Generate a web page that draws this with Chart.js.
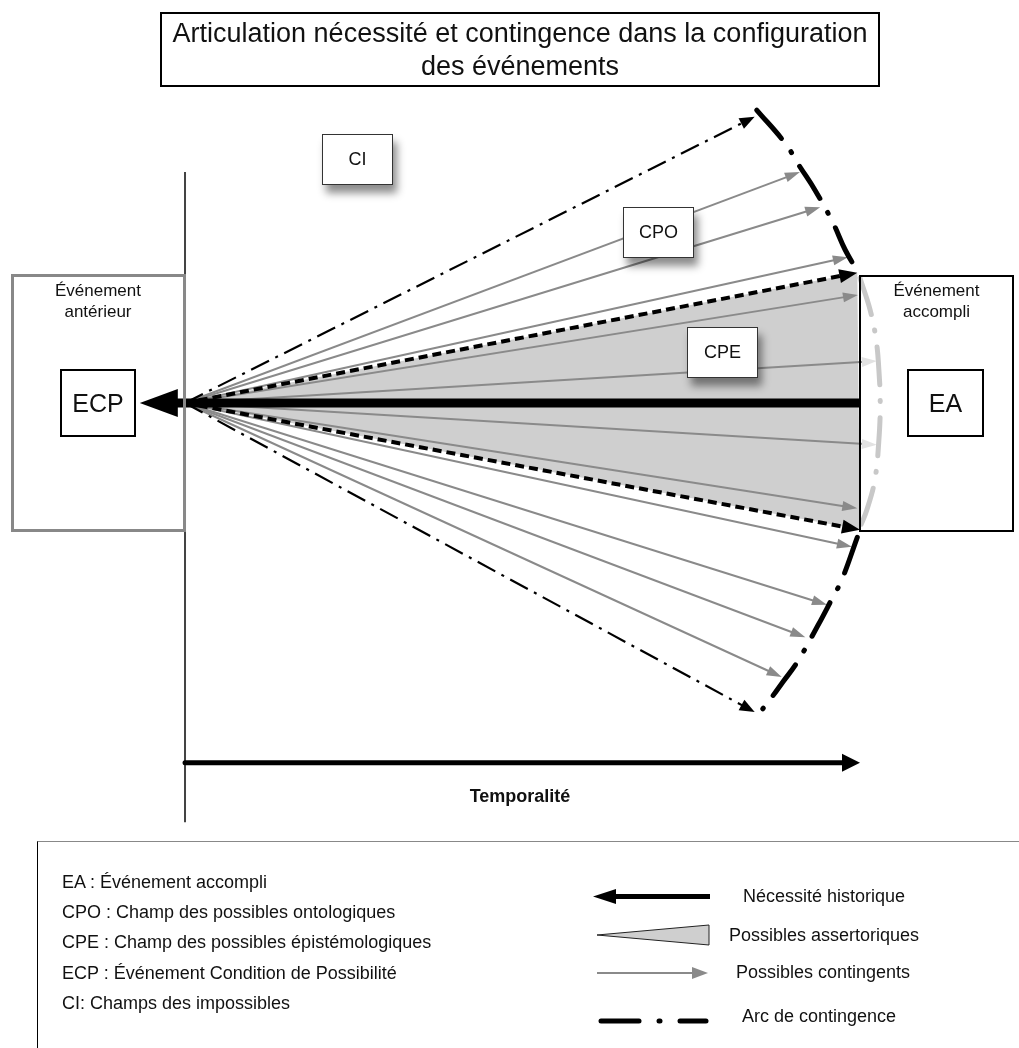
<!DOCTYPE html>
<html>
<head>
<meta charset="utf-8">
<title>Articulation nécessité et contingence</title>
<script src="https://cdn.jsdelivr.net/npm/chart.js"></script>
<style>
  html, body { margin: 0; padding: 0; background: #fff; }
  body { width: 1019px; height: 1048px; overflow: hidden; position: relative;
         font-family: 'Liberation Sans', Arial, Helvetica, sans-serif; color: #111; }
  #wrap { position: absolute; left: 0; top: 0; width: 1019px; height: 1048px; }
  .box { position: absolute; box-sizing: border-box; }
  .lbl { position: absolute; white-space: nowrap; }
  .center { display: flex; align-items: center; justify-content: center; text-align: center; }
  .tag { background: #fff; border: 1px solid #333; font-size: 18px;
         box-shadow: 4px 8px 8px rgba(0,0,0,0.45); }
</style>
</head>
<body>
<div id="wrap"><canvas id="schema" width="1019" height="1048"></canvas></div>

<div class="box center" style="left:160px;top:12px;width:720px;height:75px;border:2px solid #000;font-size:27px;line-height:33px;">
  Articulation nécessité et contingence dans la configuration<br>des événements
</div>

<div class="box" style="left:11px;top:274px;width:175px;height:258px;border:3px solid #888;"></div>
<div class="lbl" style="left:11px;top:280px;width:174px;text-align:center;font-size:17px;line-height:21px;">Événement<br>antérieur</div>
<div class="box center" style="left:60px;top:369px;width:76px;height:68px;border:2px solid #000;font-size:25px;">ECP</div>

<div class="box" style="left:859px;top:275px;width:155px;height:257px;border:2px solid #000;"></div>
<div class="lbl" style="left:860px;top:280px;width:153px;text-align:center;font-size:17px;line-height:21px;">Événement<br>accompli</div>
<div class="box center" style="left:907px;top:369px;width:77px;height:68px;border:2px solid #000;font-size:25px;">EA</div>

<div class="box center tag" style="left:322px;top:134px;width:71px;height:51px;">CI</div>
<div class="box center tag" style="left:623px;top:207px;width:71px;height:51px;">CPO</div>
<div class="box center tag" style="left:687px;top:327px;width:71px;height:51px;">CPE</div>

<div class="lbl" style="left:460px;top:786px;width:120px;text-align:center;font-size:18px;font-weight:bold;">Temporalité</div>

<div class="box" style="left:37px;top:841px;width:1000px;height:300px;border-left:1px solid #000;border-top:1px solid #888;"></div>
<div class="lbl" style="left:62px;top:871px;font-size:18px;line-height:22px;">EA : Événement accompli</div>
<div class="lbl" style="left:62px;top:901px;font-size:18px;line-height:22px;">CPO : Champ des possibles ontologiques</div>
<div class="lbl" style="left:62px;top:931px;font-size:18px;line-height:22px;">CPE : Champ des possibles épistémologiques</div>
<div class="lbl" style="left:62px;top:962px;font-size:18px;line-height:22px;">ECP : Événement Condition de Possibilité</div>
<div class="lbl" style="left:62px;top:992px;font-size:18px;line-height:22px;">CI: Champs des impossibles</div>

<div class="lbl" style="left:743px;top:885px;font-size:18px;line-height:22px;">Nécessité historique</div>
<div class="lbl" style="left:729px;top:924px;font-size:18px;line-height:22px;">Possibles assertoriques</div>
<div class="lbl" style="left:736px;top:961px;font-size:18px;line-height:22px;">Possibles contingents</div>
<div class="lbl" style="left:742px;top:1005px;font-size:18px;line-height:22px;">Arc de contingence</div>

<script>
// repère : x = temporalité (0 = ECP, 100 = EA), y = écart par rapport à la nécessité
// possibles contingents (flèches grises), extrémités
var contingentsX = [91.1, 94.1, 98.2, 99.7, 102.5, 102.5, 99.6, 98.8, 95.1, 91.9, 88.4];
var contingentsY = [34.2, 29.0, 21.6, 16.0, 6.2, -6.2, -15.6, -21.3, -29.9, -34.7, -40.6];

// bornes du champ des possibles épistémologiques (tirets épais)
var assertoriquesX = [99.6, 100];
var assertoriquesY = [19.3, -18.8];

// bornes du champ des possibles ontologiques (tiret-point)
var impossiblesX = [84.4, 84.4];
var impossiblesY = [42.4, -45.8];

// nécessité historique : de EA vers ECP
var necessiteX = [100, -6.7];

// arc de contingence (haut, milieu derrière EA, bas)
var arcHautX = [84.7, 88.9, 91.1, 93.3, 96.0, 97.8, 99.7];
var arcHautY = [43.4, 38.5, 35.0, 31.6, 26.7, 22.7, 19.4];
var arcMilieuX = [100, 101.5, 102.4, 102.8, 103.0, 102.8, 102.2, 101.0, 100];
var arcMilieuY = [18.5, 13.8, 9.3, 4.9, 0, -5.5, -11.4, -15.9, -18.4];
var arcBasX = [99.6, 97.3, 95.6, 93.8, 90.7, 88.6, 86.4, 84.7];
var arcBasY = [-19.9, -26.2, -29.5, -32.9, -38.4, -41.3, -44.3, -46.4];

// axes du schéma
var axeVertical = [34.2, -62.1];
var axeTemps = { y: -53.3, de: 0, a: 100 };

// cadrage : 1 unité = 6.75 px, origine (ECP) à 185, 403
var X_MIN = -27.41, X_MAX = 123.56, Y_MIN = -95.56, Y_MAX = 59.70;

function pts(xs, ys) {
    return xs.map(function (x, i) { return { x: x, y: ys[i] }; });
}

var datasets = [];

// nécessité historique
datasets.push({
    data: [{ x: necessiteX[0], y: 0 }, { x: necessiteX[1], y: 0 }],
    borderColor: '#000', borderWidth: 9,
    arrow: { len: 38, half: 14, color: '#000' }
});

// arc de contingence
datasets.push({ data: pts(arcHautX, arcHautY), borderColor: '#000', borderWidth: 5,
    borderDash: [38, 16, 1, 16], borderCapStyle: 'round', tension: 0.4 });
datasets.push({ data: pts(arcBasX, arcBasY), borderColor: '#000', borderWidth: 5,
    borderDash: [38, 16, 1, 16], borderCapStyle: 'round', tension: 0.4 });
datasets.push({ data: pts(arcMilieuX, arcMilieuY), borderColor: '#c8c8c8', borderWidth: 5,
    borderDash: [38, 16, 1, 16], borderCapStyle: 'round', tension: 0.4 });

// bornes CPE
assertoriquesX.forEach(function (x, i) {
    datasets.push({
        data: [{ x: 0, y: 0 }, { x: x, y: assertoriquesY[i] }],
        borderColor: '#000', borderWidth: 4, borderDash: [9, 5],
        arrow: { len: 18, half: 7, color: '#000' }
    });
});

// bornes CPO
impossiblesX.forEach(function (x, i) {
    datasets.push({
        data: [{ x: 0, y: 0 }, { x: x, y: impossiblesY[i] }],
        borderColor: '#000', borderWidth: 2.2, borderDash: [20, 7, 3, 7],
        arrow: { len: 15, half: 6, color: '#000' }
    });
});

// possibles contingents
contingentsX.forEach(function (x, i) {
    datasets.push({
        data: [{ x: 0, y: 0 }, { x: x, y: contingentsY[i] }],
        borderColor: '#8a8a8a', borderWidth: 2,
        arrow: { len: 15, half: 5, color: x > 100 ? '#e2e2e2' : '#8a8a8a' }
    });
});

// axes
datasets.push({
    data: [{ x: axeTemps.de, y: axeTemps.y }, { x: axeTemps.a, y: axeTemps.y }],
    borderColor: '#000', borderWidth: 5, borderCapStyle: 'round',
    arrow: { len: 18, half: 9, color: '#000' }
});
datasets.push({
    data: [{ x: 0, y: axeVertical[0] }, { x: 0, y: axeVertical[1] }],
    borderColor: '#444', borderWidth: 2
});

// champ des possibles épistémologiques (zone grise)
datasets.push({
    data: [{ x: 0, y: 0 }, { x: assertoriquesX[0], y: assertoriquesY[0] },
           { x: assertoriquesX[1], y: assertoriquesY[1] }, { x: 0, y: 0 }],
    borderWidth: 0, borderColor: 'rgba(0,0,0,0)', backgroundColor: '#cfcfcf', fill: 'shape'
});

datasets.forEach(function (d) {
    d.showLine = true;
    d.pointRadius = 0;
    if (d.tension === undefined) d.tension = 0;
});

// têtes de flèche : la ligne s'arrête à la base, la pointe est dessinée ensuite
var arrowHeads = {
    id: 'arrowHeads',
    beforeDatasetDraw: function (chart, args) {
        var ds = chart.data.datasets[args.index];
        if (!ds.arrow) return;
        var pts = args.meta.data;
        var n = pts.length;
        var last = ds.data[n - 1];
        var tip = { x: chart.scales.x.getPixelForValue(last.x), y: chart.scales.y.getPixelForValue(last.y) };
        var prev = pts[n - 2];
        var ang = Math.atan2(tip.y - prev.y, tip.x - prev.x);
        ds._tip = tip;
        ds._ang = ang;
        var back = ds.arrow.len * 0.8;
        pts[n - 1].x = tip.x - Math.cos(ang) * back;
        pts[n - 1].y = tip.y - Math.sin(ang) * back;
    },
    afterDatasetDraw: function (chart, args) {
        var ds = chart.data.datasets[args.index];
        if (!ds.arrow || !ds._tip) return;
        var c = chart.ctx;
        c.save();
        c.translate(ds._tip.x, ds._tip.y);
        c.rotate(ds._ang);
        c.fillStyle = ds.arrow.color;
        c.beginPath();
        c.moveTo(0, 0);
        c.lineTo(-ds.arrow.len, -ds.arrow.half);
        c.lineTo(-ds.arrow.len, ds.arrow.half);
        c.closePath();
        c.fill();
        c.restore();
    }
};

// symboles de la légende
var legendGlyphs = {
    id: 'legendGlyphs',
    afterDraw: function (chart) {
        var c = chart.ctx;
        c.save();
        // nécessité historique
        c.fillStyle = '#000';
        c.fillRect(612, 894, 98, 5);
        c.beginPath(); c.moveTo(593, 896.5); c.lineTo(616, 889); c.lineTo(616, 904); c.closePath(); c.fill();
        // possibles assertoriques
        c.fillStyle = '#cfcfcf'; c.strokeStyle = '#222'; c.lineWidth = 1;
        c.beginPath(); c.moveTo(597, 935); c.lineTo(709, 925); c.lineTo(709, 945); c.closePath();
        c.fill(); c.stroke();
        // possibles contingents
        c.strokeStyle = '#8a8a8a'; c.lineWidth = 2;
        c.beginPath(); c.moveTo(597, 973); c.lineTo(695, 973); c.stroke();
        c.fillStyle = '#8a8a8a';
        c.beginPath(); c.moveTo(708, 973); c.lineTo(692, 967); c.lineTo(692, 979); c.closePath(); c.fill();
        // arc de contingence
        c.strokeStyle = '#000'; c.lineWidth = 5; c.lineCap = 'round';
        c.beginPath(); c.moveTo(601, 1021); c.lineTo(639, 1021); c.stroke();
        c.beginPath(); c.moveTo(659, 1021); c.lineTo(660, 1021); c.stroke();
        c.beginPath(); c.moveTo(680, 1021); c.lineTo(706, 1021); c.stroke();
        c.restore();
    }
};

var ctx = document.getElementById('schema').getContext('2d');
var schema = new Chart(ctx, {
    type: 'scatter',
    data: { datasets: datasets },
    options: {
        responsive: false,
        animation: false,
        events: [],
        layout: { padding: 0 },
        plugins: { legend: { display: false }, tooltip: { enabled: false } },
        scales: {
            x: { type: 'linear', display: false, min: X_MIN, max: X_MAX },
            y: { type: 'linear', display: false, min: Y_MIN, max: Y_MAX }
        }
    },
    plugins: [arrowHeads, legendGlyphs]
});
</script>
</body>
</html>
